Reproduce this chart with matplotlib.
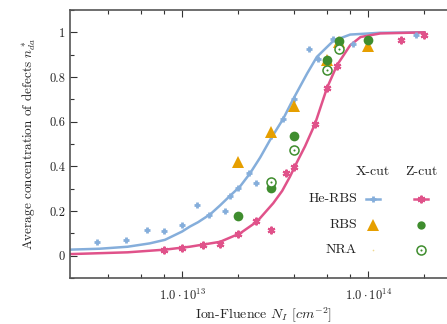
import numpy as np
import matplotlib
matplotlib.use('Agg')
import matplotlib.pyplot as plt
from matplotlib.ticker import FixedLocator, FixedFormatter, NullFormatter

plt.rcParams['font.family'] = 'cmr10'
plt.rcParams['mathtext.fontset'] = 'cm'
plt.rcParams['axes.unicode_minus'] = False

# He-RBS, X-cut
he_x_flu = [3.5e12, 5.0e12, 6.5e12, 8.0e12, 1.0e13, 1.2e13, 1.4e13, 1.7e13, 1.8e13, 2.0e13,
            2.3e13, 2.5e13, 3.0e13, 3.5e13, 4.0e13, 4.8e13, 5.4e13, 6.5e13, 8.3e13, 1.8e14]
he_x_val = [0.059, 0.068, 0.113, 0.110, 0.139, 0.228, 0.184, 0.199, 0.265, 0.304,
            0.369, 0.327, 0.536, 0.613, 0.701, 0.927, 0.882, 0.969, 0.950, 0.987]

# He-RBS, Z-cut
he_z_flu = [8.0e12, 1.0e13, 1.3e13, 1.6e13, 2.0e13, 2.5e13, 3.0e13, 3.6e13, 4.0e13,
            5.2e13, 6.0e13, 6.8e13, 1.5e14, 2.0e14]
he_z_val = [0.027, 0.033, 0.049, 0.054, 0.097, 0.155, 0.116, 0.372, 0.399,
            0.588, 0.749, 0.848, 0.967, 0.990]

# RBS, X-cut
rbs_x_flu = [2.0e13, 3.0e13, 4.0e13, 6.0e13, 7.0e13, 1.0e14]
rbs_x_val = [0.421, 0.552, 0.670, 0.878, 0.955, 0.939]

# RBS, Z-cut
rbs_z_flu = [2.0e13, 3.0e13, 4.0e13, 6.0e13, 7.0e13, 1.0e14]
rbs_z_val = [0.176, 0.302, 0.536, 0.878, 0.961, 0.967]

# NRA, Z-cut
nra_z_flu = [3.0e13, 4.0e13, 6.0e13, 7.0e13]
nra_z_val = [0.332, 0.473, 0.833, 0.925]

# fitted curves
fit_x_flu = [2.5e12, 3.6e12, 5.1e12, 6.7e12, 8.1e12, 1.0e13, 1.1e13, 1.22e13, 1.42e13, 1.6e13,
             1.81e13, 2.05e13, 2.32e13, 2.63e13, 2.97e13, 3.49e13, 3.95e13, 4.7e13, 5.3e13,
             6.5e13, 8.0e13, 1.16e14, 2.0e14]
fit_x_val = [0.027, 0.031, 0.040, 0.055, 0.071, 0.108, 0.13, 0.15, 0.186, 0.225,
             0.268, 0.31, 0.369, 0.44, 0.518, 0.612, 0.70, 0.816, 0.89,
             0.962, 0.99, 0.998, 1.0]
fit_z_flu = [2.5e12, 5.1e12, 8.1e12, 1.1e13, 1.6e13, 2.05e13, 2.53e13, 3.09e13, 3.45e13, 3.8e13,
             4.15e13, 4.58e13, 5.18e13, 6.0e13, 6.8e13, 8.0e13, 9.1e13, 1.16e14, 2.0e14]
fit_z_val = [0.007, 0.015, 0.027, 0.040, 0.062, 0.100, 0.153, 0.235, 0.29, 0.354,
             0.42, 0.49, 0.59, 0.75, 0.853, 0.942, 0.979, 0.995, 1.0]

blue = '#85aedb'
pink = '#e0528a'
orange = '#e69f00'
green = '#3f8d2e'

fig = plt.figure(figsize=(4.47, 3.24), dpi=100)
ax = fig.add_axes([70 / 447, 46 / 324, 387 / 447, 268 / 324])

ax.plot(fit_x_flu, fit_x_val, color=blue, lw=1.8, zorder=2)
ax.plot(fit_z_flu, fit_z_val, color=pink, lw=1.8, zorder=2)

ax.plot(he_x_flu, he_x_val, ls='none', marker='+', ms=5, mew=2.0, color=blue, zorder=3)
ax.plot(he_z_flu, he_z_val, ls='none', marker=(6, 2, 0), ms=5.5, mew=1.5, color=pink, zorder=3)
ax.plot(rbs_x_flu, rbs_x_val, ls='none', marker='^', ms=8, color=orange, mew=0, zorder=4)
ax.plot(rbs_z_flu, rbs_z_val, ls='none', marker='o', ms=7, color=green, mew=0, zorder=5)
ax.plot(nra_z_flu, nra_z_val, ls='none', marker='o', ms=6.5, mfc='white', mec=green, mew=1.1, zorder=5)
ax.plot(nra_z_flu, nra_z_val, ls='none', marker='o', ms=1.5, color=green, mew=0, zorder=6)

ax.set_xscale('log')
ax.set_xlim(2.5e12, 3e14)
ax.set_ylim(-0.1, 1.1)

ax.xaxis.set_major_locator(FixedLocator([1e13, 1e14]))
ax.xaxis.set_major_formatter(FixedFormatter([r'$1.0\cdot10^{13}$', r'$1.0\cdot10^{14}$']))
minors = [m * 10.0 ** e for e in (12, 13, 14) for m in (2, 4, 6, 8)]
ax.xaxis.set_minor_locator(FixedLocator(minors))
ax.xaxis.set_minor_formatter(NullFormatter())

yt = [0, 0.2, 0.4, 0.6, 0.8, 1]
ax.yaxis.set_major_locator(FixedLocator(yt))
ax.yaxis.set_major_formatter(FixedFormatter(['0', '0.2', '0.4', '0.6', '0.8', '1']))
ax.yaxis.set_minor_locator(FixedLocator(np.arange(-0.1, 1.11, 0.1)))

ax.tick_params(which='both', direction='in', top=True, right=True, colors='#333333',
               labelcolor='#222222', labelsize=9)
ax.tick_params(which='major', length=5, width=0.8)
ax.tick_params(which='minor', length=3, width=0.8)
ax.tick_params(axis='x', pad=7)
for s in ax.spines.values():
    s.set_color('#555555')
    s.set_linewidth(1.2)

ax.set_xlabel(r'Ion-Fluence $N_I$ [$cm^{-2}$]', fontsize=10, color='#222222', labelpad=2)
ax.set_ylabel(r'Average concentration of defects $n^*_{da}$', fontsize=9.5,
              color='#222222', labelpad=8)

# legend table
tr = ax.transAxes
col_x = [(373 - 70) / 387, (421 - 70) / 387]
txt_x = (357 - 70) / 387
row_y = [(278 - 199) / 268, (278 - 225) / 268, (278 - 250) / 268]
head_y = (278 - 172) / 268
ax.text(col_x[0], head_y, 'X-cut', transform=tr, ha='center', va='center', fontsize=10, color='#222222')
ax.text(col_x[1], head_y, 'Z-cut', transform=tr, ha='center', va='center', fontsize=10, color='#222222')
for y, lab in zip(row_y, ['He-RBS', 'RBS', 'NRA']):
    ax.text(txt_x, y, lab, transform=tr, ha='right', va='center', fontsize=10, color='#222222')
ax.plot([col_x[0] - 0.018, col_x[0] + 0.018], [row_y[0]] * 2, transform=tr, color=blue, lw=1.8)
ax.plot(col_x[0], row_y[0], transform=tr, marker='+', ms=5, mew=2.0, color=blue)
ax.plot([col_x[1] - 0.018, col_x[1] + 0.018], [row_y[0]] * 2, transform=tr, color=pink, lw=1.8)
ax.plot(col_x[1], row_y[0], transform=tr, marker=(6, 2, 0), ms=5.5, mew=1.5, color=pink)
ax.plot(col_x[0], row_y[1], transform=tr, marker='^', ms=8, mew=0, color=orange)
ax.plot(col_x[1], row_y[1], transform=tr, marker='o', ms=6, mew=0, color=green)
ax.plot(col_x[0], row_y[2], transform=tr, marker='o', ms=1.2, mew=0, color='#f0d890')
ax.plot(col_x[1], row_y[2], transform=tr, marker='o', ms=6.5, mfc='white', mec=green, mew=1.1)
ax.plot(col_x[1], row_y[2], transform=tr, marker='o', ms=1.5, mew=0, color=green)

fig.savefig('out.png', dpi=100)
